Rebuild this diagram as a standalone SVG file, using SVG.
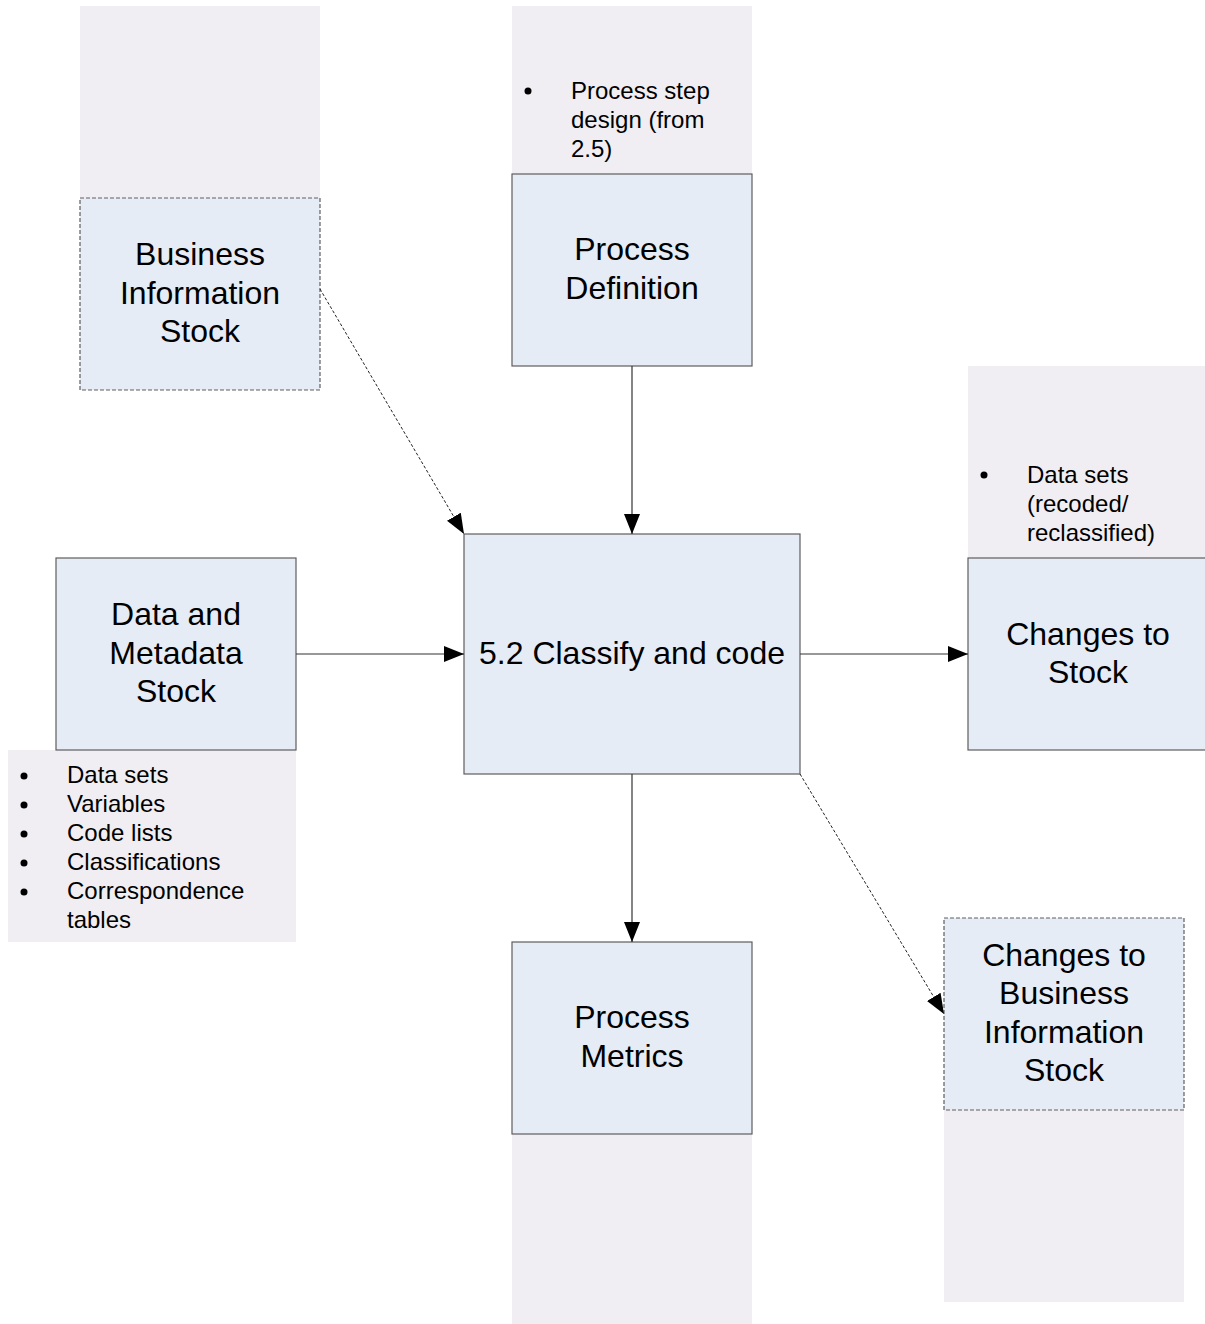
<svg xmlns="http://www.w3.org/2000/svg" width="1205" height="1324" viewBox="0 0 1205 1324">
<defs>
<style>
.panel{fill:#F0EEF3;stroke:none}
.box{fill:#E6ECF6;stroke:#5E5E5E;stroke-width:1.2}
.dbox{fill:#E6ECF6;stroke:#5E5E5E;stroke-width:1.2;stroke-dasharray:4 2}
.t{font-family:"Liberation Sans",Arial,sans-serif;font-size:32px;fill:#000;text-anchor:middle}
.b{font-family:"Liberation Sans",Arial,sans-serif;font-size:24px;fill:#000}
.c{stroke:#333;stroke-width:1.2;fill:none}
.cd{stroke:#222;stroke-width:1;fill:none;stroke-dasharray:3 2}
</style>
<marker id="ah" markerUnits="userSpaceOnUse" markerWidth="20" markerHeight="16" refX="20" refY="8" orient="auto" viewBox="0 0 20 16">
<path d="M0,0 L20,8 L0,16 z" fill="#000"/>
</marker>
</defs>
<rect width="1205" height="1324" fill="#fff"/>

<g id="business-information-stock">
<rect class="panel" x="80" y="6" width="240" height="192"/>
<rect class="dbox" x="80" y="198" width="240" height="192"/>
<text class="t" x="200" y="265">Business</text>
<text class="t" x="200" y="304">Information</text>
<text class="t" x="200" y="342">Stock</text>
</g>

<g id="process-definition">
<rect class="panel" x="512" y="6" width="240" height="168"/>
<rect class="box" x="512" y="174" width="240" height="192"/>
<text class="t" x="632" y="260">Process</text>
<text class="t" x="632" y="299">Definition</text>
<circle cx="528" cy="91" r="3.5"/>
<text class="b" x="571" y="99">Process step</text>
<text class="b" x="571" y="128">design (from</text>
<text class="b" x="571" y="157">2.5)</text>
</g>

<g id="changes-to-stock">
<rect class="panel" x="968" y="366" width="240" height="192"/>
<rect class="box" x="968" y="558" width="240" height="192"/>
<text class="t" x="1088" y="645">Changes to</text>
<text class="t" x="1088" y="683">Stock</text>
<circle cx="984" cy="475" r="3.5"/>
<text class="b" x="1027" y="483">Data sets</text>
<text class="b" x="1027" y="512">(recoded/</text>
<text class="b" x="1027" y="541">reclassified)</text>
</g>

<g id="data-and-metadata-stock">
<rect class="panel" x="8" y="750" width="288" height="192"/>
<rect class="box" x="56" y="558" width="240" height="192"/>
<text class="t" x="176" y="625">Data and</text>
<text class="t" x="176" y="664">Metadata</text>
<text class="t" x="176" y="702">Stock</text>
<circle cx="24" cy="776" r="3.5"/>
<circle cx="24" cy="805" r="3.5"/>
<circle cx="24" cy="834" r="3.5"/>
<circle cx="24" cy="863" r="3.5"/>
<circle cx="24" cy="892" r="3.5"/>
<text class="b" x="67" y="783">Data sets</text>
<text class="b" x="67" y="812">Variables</text>
<text class="b" x="67" y="841">Code lists</text>
<text class="b" x="67" y="870">Classifications</text>
<text class="b" x="67" y="899">Correspondence</text>
<text class="b" x="67" y="928">tables</text>
</g>

<g id="classify-and-code">
<rect class="box" x="464" y="534" width="336" height="240"/>
<text class="t" x="632" y="664">5.2 Classify and code</text>
</g>

<g id="process-metrics">
<rect class="panel" x="512" y="1134" width="240" height="190"/>
<rect class="box" x="512" y="942" width="240" height="192"/>
<text class="t" x="632" y="1028">Process</text>
<text class="t" x="632" y="1067">Metrics</text>
</g>

<g id="changes-to-business-information-stock">
<rect class="panel" x="944" y="1110" width="240" height="192"/>
<rect class="dbox" x="944" y="918" width="240" height="192"/>
<text class="t" x="1064" y="966">Changes to</text>
<text class="t" x="1064" y="1004">Business</text>
<text class="t" x="1064" y="1043">Information</text>
<text class="t" x="1064" y="1081">Stock</text>
</g>

<g id="connectors">
<line class="cd" x1="320" y1="289" x2="464" y2="534" marker-end="url(#ah)"/>
<line class="c" x1="632" y1="366" x2="632" y2="534" marker-end="url(#ah)"/>
<line class="c" x1="296" y1="654" x2="464" y2="654" marker-end="url(#ah)"/>
<line class="c" x1="800" y1="654" x2="968" y2="654" marker-end="url(#ah)"/>
<line class="c" x1="632" y1="774" x2="632" y2="942" marker-end="url(#ah)"/>
<line class="cd" x1="800" y1="774" x2="944" y2="1014" marker-end="url(#ah)"/>
</g>
</svg>
